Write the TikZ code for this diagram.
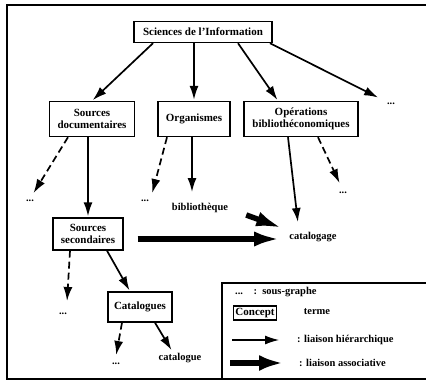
\documentclass[tikz,border=0pt]{standalone}
\usepackage{fontspec}
\setmainfont{Liberation Serif}
\usetikzlibrary{arrows.meta}

\begin{document}
\begin{tikzpicture}
    [x=1pt,y=-1pt,
      concept/.style={draw,line width=1.4pt,font=\bfseries\fontsize{11}{12}\selectfont,align=center,
        inner sep=1pt,minimum height=35pt},
      term/.style={font=\bfseries\fontsize{10.5}{11}\selectfont,inner sep=1pt},
      hier/.style={-{Latex[length=14pt,width=9pt]},line width=1.7pt,shorten >=1pt},
      subg/.style={hier,dash pattern=on 7pt off 4pt},
      assoc/.style={-{Latex[length=26pt,width=15pt]},line width=5.5pt}]
    \useasboundingbox (0,0) rectangle (426,381);
    % cadre
    \draw[line width=1.2pt] (430,5) -- (7,5) -- (7,379) -- (430,379);
    % concepts
    \node[concept,minimum width=138pt,minimum height=21pt] (sci) at (203,32) {Sciences de l'Information};
    \node[concept,minimum width=85pt] (srcdoc) at (92,119) {Sources\\documentaires};
    \node[concept,minimum width=72pt] (org) at (194,119) {Organismes};
    \node[concept,minimum width=114pt] (ops) at (301,119) {Op\'erations\\biblioth\'economiques};
    \node[concept,minimum width=70pt,minimum height=32pt] (srcsec) at (88,234) {Sources\\secondaires};
    \node[concept,minimum width=64pt,minimum height=30pt] (catgs) at (140,307) {Catalogues};
    % termes
    \node[term] (biblio) at (200,208) {biblioth\`eque};
    \node[term] (catg) at (313,237) {catalogage};
    \node[term] (catlg) at (180,358) {catalogue};
    \node[term] (dotsA) at (391,104) {...};
    \node[term] (dotsB) at (30,201) {...};
    \node[term] (dotsC) at (145,201) {...};
    \node[term] (dotsD) at (343,193) {...};
    \node[term] (dotsE) at (63,314) {...};
    \node[term] (dotsF) at (116,364) {...};
    % liaisons hierarchiques
    \draw[hier] ([xshift=-50pt]sci.south) -- (srcdoc.north);
    \draw[hier] (org.north |- sci.south) -- (org.north);
    \draw[hier] ([xshift=35pt]sci.south) -- ([xshift=-23pt]ops.north);
    \draw[hier] ([xshift=67pt]sci.south) -- ([xshift=-12pt,yshift=4pt]dotsA.north);
    \draw[subg] ([xshift=-24pt]srcdoc.south) -- ([xshift=3pt,yshift=5pt]dotsB.north);
    \draw[hier] (srcsec.north |- srcdoc.south) -- (srcsec.north);
    \draw[subg] ([xshift=-27pt]org.south) -- ([xshift=7pt,yshift=5pt]dotsC.north);
    \draw[hier] ([xshift=-2pt]org.south) -- ([xshift=-8pt,yshift=9pt]biblio.north);
    \draw[hier] ([xshift=-13pt]ops.south) -- ([xshift=-15pt,yshift=8pt]catg.north);
    \draw[subg] ([xshift=17pt]ops.south) -- ([xshift=-3pt,yshift=7pt]dotsD.north);
    \draw[subg] ([xshift=-18pt]srcsec.south) -- ([xshift=4pt,yshift=10pt]dotsE.north);
    \draw[hier] ([xshift=19pt]srcsec.south) -- ([xshift=-10pt]catgs.north);
    \draw[subg] ([xshift=-18pt]catgs.south) -- ([yshift=6pt]dotsF.north);
    \draw[hier] ([xshift=15pt]catgs.south) -- ([xshift=-8pt,yshift=1pt]catlg.north);
    % liaisons associatives
    \draw[assoc] ([xshift=17pt,yshift=-7pt]biblio.east) -- ([xshift=-6pt,yshift=9pt]catg.west);
    \draw[assoc] ([xshift=14pt,yshift=-5pt]srcsec.east) -- ([xshift=-8pt,yshift=-2pt]catg.west);
    % legende
    \draw[line width=1.2pt] (430,283) -| (222,379);
    \node[term,anchor=west] (lgsub) at (234,292) {...\quad:\ \ sous-graphe};
    \node[concept,minimum height=0pt,inner sep=2pt] (lgconc) at (255,313) {Concept};
    \node[term] (lgterm) at (317,312) {terme};
    \coordinate (lh1) at (232,340);
    \coordinate (lh2) at (280,340);
    \coordinate (la1) at (230,363);
    \coordinate (la2) at (283,363);
    \node[term,anchor=west] (lghier) at (296,340) {: liaison hi\'erarchique};
    \node[term,anchor=west] (lgassoc) at (298,363) {: liaison associative};
    \draw[hier,line width=1.2pt] (lh1) -- (lh2);
    \draw[assoc,-{Latex[length=24pt,width=16pt]}] (la1) -- (la2);
\end{tikzpicture}
\end{document}
